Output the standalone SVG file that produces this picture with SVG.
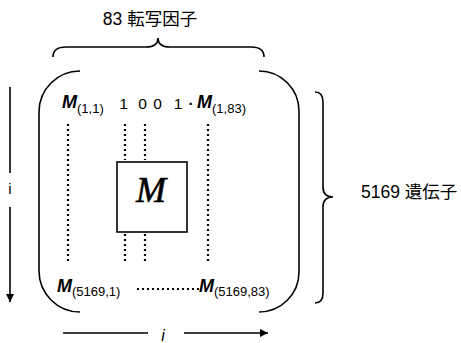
<svg xmlns="http://www.w3.org/2000/svg" width="461" height="343" viewBox="0 0 461 343">
<defs>
<style>
.ln{fill:none;stroke:#000;stroke-width:1.6}
.dot{fill:none;stroke:#000;stroke-width:2.2;stroke-dasharray:2 3}
.t{font-family:"Liberation Sans","Noto Sans CJK JP",sans-serif;fill:#000}
.mb{font-family:"Liberation Sans",sans-serif;font-weight:bold;font-style:italic;font-size:18px}
.sub{font-family:"Liberation Sans",sans-serif;font-size:13px}
</style>
<marker id="ah" viewBox="0 0 10 10" refX="10" refY="5" markerWidth="8" markerHeight="8" markerUnits="userSpaceOnUse" orient="auto">
<path d="M0,0 L10,5 L0,10 z" fill="#000"/>
</marker>
</defs>
<rect width="461" height="343" fill="#fff"/>

<g id="title">
<text class="t" x="150" y="25" font-size="17.5" text-anchor="middle">83 転写因子</text>
<path class="ln" d="M53,57 Q53,47 66,47 L146,47 Q158,47 158,38 Q158,47 170,47 L251,47 Q264,47 264,57"/>
</g>

<g id="matrix">
<path class="ln" d="M80,71 A41,41 0 0 0 39,112 L39,271 A41,41 0 0 0 80,312"/>
<path class="ln" d="M259,71 A40,40 0 0 1 299,111 L299,272 A40,40 0 0 1 259,312"/>
</g>

<g id="genes">
<path class="ln" d="M315,92 Q323,92 323,102 L323,187 Q323,197 333,197 Q323,197 323,207 L323,293 Q323,303 315,303"/>
<text class="t" x="361" y="198" font-size="17.5">5169 遺伝子</text>
</g>

<g id="row1">
<text x="62" y="108" fill="#000"><tspan class="mb">M</tspan><tspan class="sub" dy="5">(1,1)</tspan></text>
<g class="t" font-size="15.5" text-anchor="middle">
<text x="123.5" y="109">1</text>
<text x="142.5" y="109">0</text>
<text x="157.5" y="109">0</text>
<text x="178" y="109">1</text>
<text x="191" y="109" font-weight="bold">·</text>
</g>
<text x="197" y="108" fill="#000"><tspan class="mb">M</tspan><tspan class="sub" dy="5">(1,83)</tspan></text>
</g>

<g id="rowN">
<text x="57" y="292" fill="#000"><tspan class="mb">M</tspan><tspan class="sub" dy="4">(5169,1)</tspan></text>
<text x="199" y="292" fill="#000"><tspan class="mb">M</tspan><tspan class="sub" dy="4">(5169,83)</tspan></text>
</g>

<g id="box">
<rect x="117" y="162" width="70" height="70" class="ln"/>
<text x="151" y="202" font-family="Liberation Serif,serif" font-style="italic" font-size="36" text-anchor="middle" fill="#000" stroke="#000" stroke-width="0.6">M</text>
</g>

<g id="connectors">
<line class="dot" x1="68" y1="124" x2="68" y2="264"/>
<line class="dot" x1="125" y1="124" x2="125" y2="160"/>
<line class="dot" x1="145" y1="124" x2="145" y2="160"/>
<line class="dot" x1="125" y1="234" x2="125" y2="264"/>
<line class="dot" x1="145" y1="234" x2="145" y2="264"/>
<line class="dot" x1="208" y1="124" x2="208" y2="264"/>
<line class="dot" x1="137" y1="289" x2="199" y2="289"/>
<line class="ln" x1="10" y1="87" x2="10" y2="173"/>
<line class="ln" x1="10" y1="207" x2="10" y2="302" marker-end="url(#ah)"/>
<line class="ln" x1="63" y1="333" x2="148" y2="333"/>
<line class="ln" x1="184" y1="333" x2="268" y2="333" marker-end="url(#ah)"/>
</g>

<g id="axis-labels">
<text class="t" x="10" y="194" font-size="15" text-anchor="middle">i</text>
<text class="t" x="163" y="341" font-size="16" font-style="italic" text-anchor="middle">i</text>
</g>
</svg>
